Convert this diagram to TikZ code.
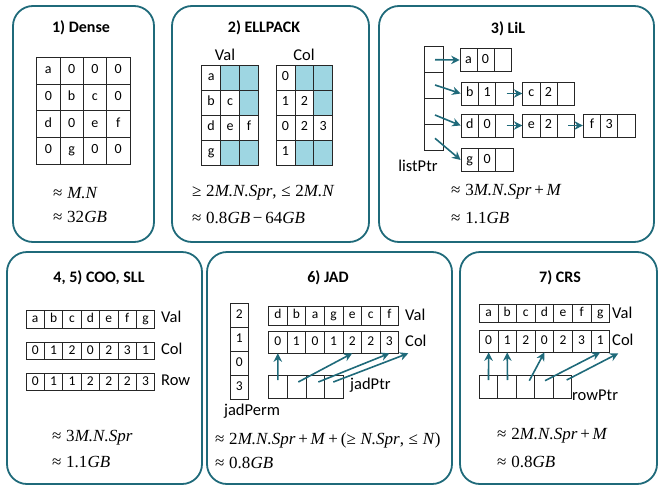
\documentclass[tikz,border=0pt]{standalone}
\usepackage{fontspec}
\setmainfont{Carlito}
\newfontfamily\fm{Liberation Serif}
\usetikzlibrary{arrows.meta}
\definecolor{teal1}{RGB}{31,106,122}
\definecolor{ellblue}{RGB}{158,214,226}
\tikzset{
 panel/.style={draw=teal1, line width=1.8pt, rounded corners=20pt},
 cell/.style={draw=black!85, line width=0.7pt, inner sep=0pt},
 bigc/.style={font=\fontsize{14}{16}\selectfont, text height=9.5pt, text depth=3pt},
 smc/.style={font=\fontsize{13.5}{15}\selectfont, text height=9pt, text depth=2.5pt},
 ttl/.style={font=\fontsize{16}{18}\selectfont\bfseries, inner sep=0pt},
 lbl/.style={font=\fontsize{16.5}{19}\selectfont, inner sep=0pt},
 frm/.style={font=\fm\fontsize{17}{19}\selectfont, anchor=west, inner sep=0pt},
 ptr/.style={draw=teal1, line width=1.6pt, -{Stealth[length=8.5pt,width=8.5pt]}},
}
% name, x0, y0, w, h, list, style
\newcommand\cellrow[7]{%
 \foreach \t [count=\i] in {#6} {%
   \node[cell, #7, minimum width=#4pt, minimum height=#5pt] (#1-\i) at ({#2+(\i-0.5)*#4},{#3+#5/2}) {\t};
 }}
% name, x0, y0, w, h, list, style  (vertical)
\newcommand\cellcol[7]{%
 \foreach \t [count=\i] in {#6} {%
   \node[cell, #7, minimum width=#4pt, minimum height=#5pt] (#1-\i) at ({#2+#4/2},{#3+(\i-0.5)*#5}) {\t};
 }}
% name, x0, y0, w, h, list of text/fill
\newcommand\fcellrow[7]{%
 \foreach \t/\f [count=\i] in {#6} {%
   \node[cell, #7, fill=\f, minimum width=#4pt, minimum height=#5pt] (#1-\i) at ({#2+(\i-0.5)*#4},{#3+#5/2}) {\t};
 }}
\begin{document}
\begin{tikzpicture}[x=1pt,y=-1pt]
\useasboundingbox (0,0) rectangle (660,487);
% panels
\draw[panel] (13,6) rectangle (154,242);
\draw[panel] (172,6) rectangle (369,242);
\draw[panel] (379,6) rectangle (654,242);
\draw[panel] (7,252) rectangle (202,484);
\draw[panel] (207,252) rectangle (452,484);
\draw[panel] (460,252) rectangle (657,484);

% 1) Dense
\node[ttl] (t1) at (81,28) {1) Dense};
\cellrow{d1}{36.7}{57.3}{23.3}{26.7}{a,0,0,0}{bigc}
\cellrow{d2}{36.7}{84}{23.3}{26.7}{0,b,c,0}{bigc}
\cellrow{d3}{36.7}{110.7}{23.3}{26.7}{d,0,e,f}{bigc}
\cellrow{d4}{36.7}{137.3}{23.3}{26.7}{0,g,0,0}{bigc}
\node[frm] (f1a) at (53,193) {≈\;\textit{M.N}};
\node[frm] (f1b) at (53,217) {≈\;32\textit{GB}};

% 2) ELLPACK
\node[ttl] (t2) at (264,28) {2) ELLPACK};
\node[lbl] (ev) at (225,55) {Val};
\node[lbl] (ec) at (304,55) {Col};
\fcellrow{ev1}{201.7}{65}{18.9}{25}{a/white,{}/ellblue,{}/ellblue}{bigc}
\fcellrow{ev2}{201.7}{90}{18.9}{25}{b/white,c/white,{}/ellblue}{bigc}
\fcellrow{ev3}{201.7}{115}{18.9}{25}{d/white,e/white,f/white}{bigc}
\fcellrow{ev4}{201.7}{140}{18.9}{25}{g/white,{}/ellblue,{}/ellblue}{bigc}
\fcellrow{ec1}{276}{65}{18.9}{25}{0/white,{}/ellblue,{}/ellblue}{bigc}
\fcellrow{ec2}{276}{90}{18.9}{25}{1/white,2/white,{}/ellblue}{bigc}
\fcellrow{ec3}{276}{115}{18.9}{25}{0/white,2/white,3/white}{bigc}
\fcellrow{ec4}{276}{140}{18.9}{25}{1/white,{}/ellblue,{}/ellblue}{bigc}
\node[frm] (f2a) at (192,193) {≥\;2\textit{M.N.Spr},\;≤\;2\textit{M.N}};
\node[frm] (f2b) at (192,218) {≈\;0.8\textit{GB}\,−\,64\textit{GB}};

% 3) LiL
\node[ttl] (t3) at (508,29) {3) LiL};
\cellcol{lp}{424}{46.7}{19.3}{25.8}{{},{},{},{}}{bigc}
\node[lbl] (lpl) at (418,166) {listPtr};
\cellrow{la}{460}{48.5}{17}{23}{a,0,{}}{bigc}
\cellrow{lb}{461}{82}{17.4}{23}{b,1,{}}{bigc}
\cellrow{lc}{522.7}{82}{17.2}{23}{c,2,{}}{bigc}
\cellrow{ld}{461}{114}{17.4}{23}{d,0,{}}{bigc}
\cellrow{le}{522.7}{114}{17.2}{23}{e,2,{}}{bigc}
\cellrow{lf}{583.3}{114}{17.2}{23}{f,3,{}}{bigc}
\cellrow{lg}{461}{148.5}{17.4}{23}{g,0,{}}{bigc}
\coordinate (s1) at (435,59.7);
\coordinate (s2) at (435,85);
\coordinate (s3) at (435,115);
\coordinate (s4) at (435,138.3);
\coordinate (s5) at (506.7,93.5);
\coordinate (s6) at (506.7,125.5);
\coordinate (s7) at (568.3,125.5);
\draw[ptr] (s1) -- (la-1.west);
\draw[ptr] (s2) -- (lb-1.west);
\draw[ptr] (s3) -- (ld-1.west);
\draw[ptr] (s4) -- (lg-1.west);
\draw[ptr] (s5) -- (lc-1.west);
\draw[ptr] (s6) -- (le-1.west);
\draw[ptr] (s7) -- (lf-1.west);
\node[frm] (f3a) at (451,192) {≈\;3\textit{M.N.Spr}\,+\,\textit{M}};
\node[frm] (f3b) at (451,218) {≈\;1.1\textit{GB}};

% 4,5) COO, SLL
\node[ttl] (t4) at (99,278) {4, 5) COO, SLL};
\cellrow{cv}{26}{310.5}{18.4}{17.5}{a,b,c,d,e,f,g}{smc}
\cellrow{cc}{26}{342}{18.4}{17.5}{0,1,2,0,2,3,1}{smc}
\cellrow{cr}{26}{373}{18.4}{17.5}{0,1,1,2,2,2,3}{smc}
\node[lbl, anchor=west] (cvl) at (161,317) {Val};
\node[lbl, anchor=west] (ccl) at (161,349) {Col};
\node[lbl, anchor=west] (crl) at (161,380) {Row};
\node[frm] (f4a) at (52,438) {≈\;3\textit{M.N.Spr}};
\node[frm] (f4b) at (52,462) {≈\;1.1\textit{GB}};

% 6) JAD
\node[ttl] (t6) at (328,278) {6) JAD};
\cellcol{jperm}{230}{303}{18.5}{24}{2,1,0,3}{smc}
\node[lbl] (jperml) at (252,411) {jadPerm};
\cellrow{jv}{268.5}{306}{18.6}{19}{d,b,a,g,e,c,f}{smc}
\cellrow{jc}{268.5}{331}{18.6}{22}{0,1,0,1,2,2,3}{smc}
\cellrow{jp}{268.5}{375}{18.75}{23}{{},{},{},{}}{smc}
\node[lbl, anchor=west] (jvl) at (405,315) {Val};
\node[lbl, anchor=west] (jcl) at (405,341) {Col};
\node[lbl, anchor=west] (jpl) at (350,385) {jadPtr};
\coordinate (j1) at (277.9,380);
\coordinate (j2) at (298.3,382);
\coordinate (j3) at (318.3,382);
\coordinate (j4) at (333.3,382);
\coordinate (j4e) at (408.3,353.3);
\draw[ptr] (j1) -- (jc-1.south);
\draw[ptr] (j2) -- (jc-5.south);
\draw[ptr] (j3) -- (jc-7.south);
\draw[ptr] (j4) -- (j4e);
\node[frm] (f6a) at (215,440) {≈\;2\textit{M.N.Spr}\,+\,\textit{M}\,+\,(≥\;\textit{N.Spr},\;≤\;\textit{N})};
\node[frm] (f6b) at (215,463) {≈\;0.8\textit{GB}};

% 7) CRS
\node[ttl] (t7) at (560,278) {7) CRS};
\cellrow{rv}{479.3}{304}{18.6}{18.5}{a,b,c,d,e,f,g}{smc}
\cellrow{rc}{479.3}{330}{18.6}{22}{0,1,2,0,2,3,1}{smc}
\cellrow{rp}{479.3}{375}{18.5}{23}{{},{},{},{},{}}{smc}
\node[lbl, anchor=west] (rvl) at (612,313) {Val};
\node[lbl, anchor=west] (rcl) at (612,340) {Col};
\node[lbl, anchor=west] (rpl) at (572,395) {rowPtr};
\coordinate (r1) at (488.5,380);
\coordinate (r2) at (507.5,380);
\coordinate (r3) at (529.3,380.7);
\coordinate (r4) at (545,380.7);
\coordinate (r5) at (566.7,380);
\coordinate (r5e) at (618.3,353.3);
\draw[ptr] (r1) -- (rc-1.south);
\draw[ptr] (r2) -- (rc-2.south);
\draw[ptr] (r3) -- (rc-4.south);
\draw[ptr] (r4) -- (rc-7.south);
\draw[ptr] (r5) -- (r5e);
\node[frm] (f7a) at (497,436) {≈\;2\textit{M.N.Spr}\,+\,\textit{M}};
\node[frm] (f7b) at (497,462) {≈\;0.8\textit{GB}};
\end{tikzpicture}
\end{document}
